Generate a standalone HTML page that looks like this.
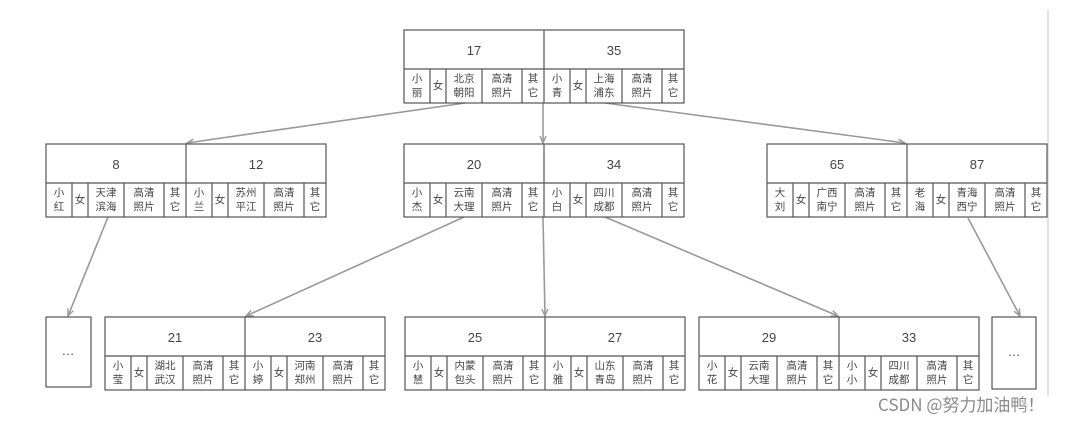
<!DOCTYPE html>
<html><head><meta charset="utf-8"><style>
html,body{margin:0;padding:0;background:#fff;}
svg{display:block;font-family:"Liberation Sans","Noto Sans CJK SC",sans-serif;}
.b{fill:#fff;stroke:#555;stroke-width:1.2}
.l{stroke:#555;stroke-width:1.2}
.k{font-size:13px;fill:#444;text-anchor:middle}
.c{font-size:10.5px;fill:#444;text-anchor:middle}
.a{stroke:#999;stroke-width:1.6;fill:none;marker-end:url(#ar)}
</style></head><body>
<svg width="1077" height="422" viewBox="0 0 1077 422">
<defs><marker id="ar" markerWidth="8" markerHeight="8" refX="7" refY="4" orient="auto" markerUnits="userSpaceOnUse"><path d="M0,1 L7,4 L0,7" fill="none" stroke="#999" stroke-width="1.4"/></marker>
<g id="fr"><rect class="b" x="0" y="0" width="280" height="73"/><line class="l" x1="0" y1="39" x2="280" y2="39"/><line class="l" x1="140" y1="0" x2="140" y2="73"/>
<path class="l" d="M26,39V73M42,39V73M78,39V73M118,39V73M166,39V73M182,39V73M218,39V73M258,39V73"/></g></defs>
<line x1="1048" y1="10" x2="1048" y2="396" stroke="#e2e2e2" stroke-width="2"/>
<line class="a" x1="465" y1="103" x2="187" y2="143"/>
<line class="a" x1="543" y1="103" x2="543" y2="143"/>
<line class="a" x1="605" y1="103" x2="905" y2="143"/>
<line class="a" x1="108" y1="217" x2="68" y2="316"/>
<line class="a" x1="464" y1="217" x2="246" y2="316"/>
<line class="a" x1="543" y1="217" x2="545" y2="316"/>
<line class="a" x1="605" y1="217" x2="838" y2="316"/>
<line class="a" x1="968" y1="218" x2="1020" y2="316"/>

<g transform="translate(404,30)"><use href="#fr"/>
<text class="k" x="70" y="25">17</text><text class="k" x="210" y="25">35</text>
<g class="c"><text x="13" y="52">小</text><text x="13" y="66">丽</text><text x="34" y="59">女</text><text x="60" y="52">北京</text><text x="60" y="66">朝阳</text><text x="98" y="52">高清</text><text x="98" y="66">照片</text><text x="129" y="52">其</text><text x="129" y="66">它</text>
<text x="153" y="52">小</text><text x="153" y="66">青</text><text x="174" y="59">女</text><text x="200" y="52">上海</text><text x="200" y="66">浦东</text><text x="238" y="52">高清</text><text x="238" y="66">照片</text><text x="269" y="52">其</text><text x="269" y="66">它</text></g></g>

<g transform="translate(46,144)"><use href="#fr"/>
<text class="k" x="70" y="25">8</text><text class="k" x="210" y="25">12</text>
<g class="c"><text x="13" y="52">小</text><text x="13" y="66">红</text><text x="34" y="59">女</text><text x="60" y="52">天津</text><text x="60" y="66">滨海</text><text x="98" y="52">高清</text><text x="98" y="66">照片</text><text x="129" y="52">其</text><text x="129" y="66">它</text>
<text x="153" y="52">小</text><text x="153" y="66">兰</text><text x="174" y="59">女</text><text x="200" y="52">苏州</text><text x="200" y="66">平江</text><text x="238" y="52">高清</text><text x="238" y="66">照片</text><text x="269" y="52">其</text><text x="269" y="66">它</text></g></g>

<g transform="translate(404,144)"><use href="#fr"/>
<text class="k" x="70" y="25">20</text><text class="k" x="210" y="25">34</text>
<g class="c"><text x="13" y="52">小</text><text x="13" y="66">杰</text><text x="34" y="59">女</text><text x="60" y="52">云南</text><text x="60" y="66">大理</text><text x="98" y="52">高清</text><text x="98" y="66">照片</text><text x="129" y="52">其</text><text x="129" y="66">它</text>
<text x="153" y="52">小</text><text x="153" y="66">白</text><text x="174" y="59">女</text><text x="200" y="52">四川</text><text x="200" y="66">成都</text><text x="238" y="52">高清</text><text x="238" y="66">照片</text><text x="269" y="52">其</text><text x="269" y="66">它</text></g></g>

<g transform="translate(767,144)"><use href="#fr"/>
<text class="k" x="70" y="25">65</text><text class="k" x="210" y="25">87</text>
<g class="c"><text x="13" y="52">大</text><text x="13" y="66">刘</text><text x="34" y="59">女</text><text x="60" y="52">广西</text><text x="60" y="66">南宁</text><text x="98" y="52">高清</text><text x="98" y="66">照片</text><text x="129" y="52">其</text><text x="129" y="66">它</text>
<text x="153" y="52">老</text><text x="153" y="66">海</text><text x="174" y="59">女</text><text x="200" y="52">青海</text><text x="200" y="66">西宁</text><text x="238" y="52">高清</text><text x="238" y="66">照片</text><text x="269" y="52">其</text><text x="269" y="66">它</text></g></g>

<rect class="b" x="46" y="317" width="45" height="70"/><text class="k" x="68" y="355">…</text>
<rect class="b" x="992" y="317" width="44" height="72"/><text class="k" x="1014" y="356">…</text>

<g transform="translate(105,317)"><use href="#fr"/>
<text class="k" x="70" y="25">21</text><text class="k" x="210" y="25">23</text>
<g class="c"><text x="13" y="52">小</text><text x="13" y="66">莹</text><text x="34" y="59">女</text><text x="60" y="52">湖北</text><text x="60" y="66">武汉</text><text x="98" y="52">高清</text><text x="98" y="66">照片</text><text x="129" y="52">其</text><text x="129" y="66">它</text>
<text x="153" y="52">小</text><text x="153" y="66">婷</text><text x="174" y="59">女</text><text x="200" y="52">河南</text><text x="200" y="66">郑州</text><text x="238" y="52">高清</text><text x="238" y="66">照片</text><text x="269" y="52">其</text><text x="269" y="66">它</text></g></g>

<g transform="translate(405,317)"><use href="#fr"/>
<text class="k" x="70" y="25">25</text><text class="k" x="210" y="25">27</text>
<g class="c"><text x="13" y="52">小</text><text x="13" y="66">慧</text><text x="34" y="59">女</text><text x="60" y="52">内蒙</text><text x="60" y="66">包头</text><text x="98" y="52">高清</text><text x="98" y="66">照片</text><text x="129" y="52">其</text><text x="129" y="66">它</text>
<text x="153" y="52">小</text><text x="153" y="66">雅</text><text x="174" y="59">女</text><text x="200" y="52">山东</text><text x="200" y="66">青岛</text><text x="238" y="52">高清</text><text x="238" y="66">照片</text><text x="269" y="52">其</text><text x="269" y="66">它</text></g></g>

<g transform="translate(699,317)"><use href="#fr"/>
<text class="k" x="70" y="25">29</text><text class="k" x="210" y="25">33</text>
<g class="c"><text x="13" y="52">小</text><text x="13" y="66">花</text><text x="34" y="59">女</text><text x="60" y="52">云南</text><text x="60" y="66">大理</text><text x="98" y="52">高清</text><text x="98" y="66">照片</text><text x="129" y="52">其</text><text x="129" y="66">它</text>
<text x="153" y="52">小</text><text x="153" y="66">小</text><text x="174" y="59">女</text><text x="200" y="52">四川</text><text x="200" y="66">成都</text><text x="238" y="52">高清</text><text x="238" y="66">照片</text><text x="269" y="52">其</text><text x="269" y="66">它</text></g></g>

<text x="878" y="411" font-size="17" fill="#8a8a8a" font-family="'Noto Sans CJK SC',sans-serif">CSDN @努力加油鸭！</text>
</svg>
</body></html>
